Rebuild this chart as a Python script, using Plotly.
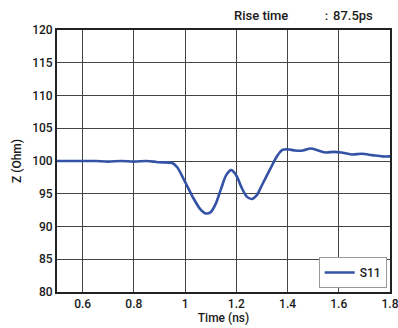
import plotly.graph_objects as go

time_ns = [0.50, 0.55, 0.60, 0.65, 0.70, 0.75, 0.80, 0.85, 0.88, 0.90, 0.95, 0.97,
           1.00, 1.03, 1.06, 1.08, 1.10, 1.12, 1.14, 1.16, 1.18, 1.20, 1.22, 1.24,
           1.26, 1.28, 1.30, 1.33, 1.36, 1.38, 1.40, 1.43, 1.46, 1.49, 1.52, 1.55,
           1.58, 1.61, 1.65, 1.69, 1.73, 1.77, 1.80]
z_ohm = [100.0, 100.0, 100.0, 100.0, 99.9, 100.0, 99.9, 100.0, 99.9, 99.8, 99.7, 99.0,
         96.8, 94.5, 92.6, 92.0, 92.2, 93.5, 95.7, 97.8, 98.6, 97.8, 96.0, 94.6,
         94.2, 94.8, 96.3, 98.6, 100.8, 101.7, 101.8, 101.6, 101.6, 101.9, 101.6, 101.3,
         101.4, 101.3, 101.0, 101.1, 100.9, 100.7, 100.7]
x_ticks = [0.6, 0.8, 1.0, 1.2, 1.4, 1.6, 1.8]
x_tick_labels = ["0.6", "0.8", "1", "1.2", "1.4", "1.6", "1.8"]
y_ticks = [80, 85, 90, 95, 100, 105, 110, 115, 120]

font_family = "Roboto, DejaVu Sans Condensed, sans-serif"
txt = dict(family=font_family, size=12, color="#1a1a1a", weight=500)

fig = go.Figure()
fig.add_trace(go.Scatter(
    x=time_ns, y=z_ohm, mode="lines", name="S11",
    line=dict(color="#3553a6", width=2.6, shape="spline", smoothing=0.8),
))

fig.update_layout(
    width=398, height=328,
    margin=dict(l=57, r=8, t=30, b=36, autoexpand=False),
    paper_bgcolor="white", plot_bgcolor="white",
    font=txt,
    showlegend=True,
    legend=dict(x=0.99, y=0.015, xanchor="right", yanchor="bottom",
                bgcolor="white", bordercolor="#999", borderwidth=1,
                font=dict(family=font_family, size=12, color="#1a1a1a", weight=500),
                itemwidth=30, tracegroupgap=0),
    xaxis=dict(range=[0.5, 1.8], tickvals=x_ticks, ticktext=x_tick_labels,
               showgrid=True, gridcolor="#444", gridwidth=1,
               showline=True, linecolor="#222", linewidth=2, mirror=True,
               ticks="", zeroline=False, automargin=False,
               ticklabeloverflow="allow",
               tickfont=txt,
               title=dict(text="Time (ns)", standoff=0, font=txt)),
    yaxis=dict(range=[80, 120], tickvals=y_ticks,
               showgrid=True, gridcolor="#444", gridwidth=1,
               showline=True, linecolor="#222", linewidth=2, mirror=True,
               ticks="", zeroline=False, automargin=False,
               tickfont=txt,
               title=dict(text="Z (Ohm)", standoff=8, font=txt)),
    annotations=[
        dict(text="Rise time", xref="paper", yref="paper", x=(261 - 57) / 333, y=(292 - 15) / 262,
             showarrow=False, xanchor="center", yanchor="middle",
             font=dict(family=font_family, size=13, color="#1a1a1a", weight=500)),
        dict(text="：87.5ps", xref="paper", yref="paper", x=(318 - 57) / 333, y=(292 - 15) / 262,
             showarrow=False, xanchor="left", yanchor="middle",
             font=dict(family=font_family, size=13, color="#1a1a1a", weight=500)),
    ],
)

fig.write_html("out.html", config={"displayModeBar": False},
               post_script="document.body.style.margin='0';document.body.style.overflow='hidden';")
